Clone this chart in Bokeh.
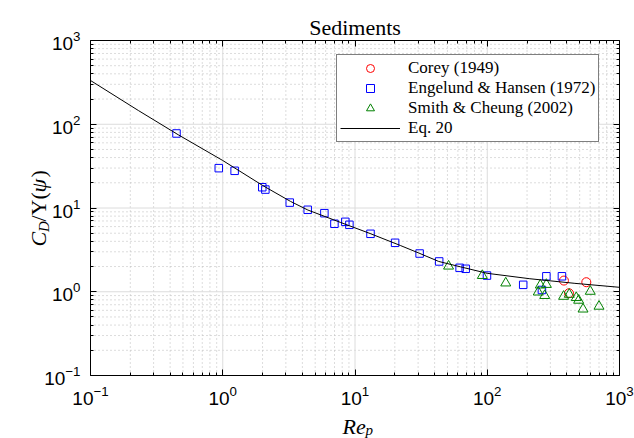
import math
from bokeh.plotting import figure
from bokeh.models import Range1d, FixedTicker, LogAxis, Label, LogTickFormatter
from bokeh.embed import file_html
from bokeh.resources import INLINE

# ---------------- data ----------------
corey_re = [380, 561, 415]
corey_cd = [1.36, 1.30, 0.96]

eh_re = [0.447, 0.933, 1.23, 1.99, 2.10, 3.21, 4.39, 5.87, 6.99, 8.45, 9.07,
         13.1, 20.1, 30.8, 43.3, 61.8, 68.7, 99.5, 187, 280, 367, 259]
eh_cd = [77.6, 29.9, 27.8, 17.7, 16.6, 11.6, 9.52, 8.67, 6.48, 6.84, 6.30,
         4.92, 3.84, 2.86, 2.30, 1.93, 1.88, 1.56, 1.21, 1.53, 1.53, 1.05]

sc_re = [51.0, 91.8, 138, 252, 280, 243, 272, 378, 417, 471, 491, 530, 601, 700]
sc_cd = [2.02, 1.56, 1.27, 1.20, 1.22, 0.99, 0.90, 0.88, 0.93, 0.85, 0.79, 0.62, 1.01, 0.67]

eq_re = [0.1, 0.23, 0.46, 1, 2, 3.25, 4.4, 7.8, 13, 22, 31, 43, 63, 100, 210, 460, 1000]
eq_cd = [333, 146, 75, 36.9, 18.6, 12.0, 9.46, 6.71, 4.96, 3.57, 2.86, 2.30, 1.98,
         1.66, 1.43, 1.26, 1.13]

x_lim = [0.1, 1000]
y_lim = [0.1, 1000]
major_ticks = [0.1, 1, 10, 100, 1000]
minor_ticks = [m * 10.0 ** e for e in range(-1, 3) for m in range(2, 10)]

title_text = "Sediments"
legend_labels = ["Corey (1949)", "Engelund & Hansen (1972)", "Smith & Cheung (2002)", "Eq. 20"]

# ---------------- layout (pixels) ----------------
W, H = 634, 438
AX_L, AX_R, AX_T, AX_B = 90, 619, 40, 375   # axes box inside the canvas

lx0, lx1 = math.log10(x_lim[0]), math.log10(x_lim[1])
ly0, ly1 = math.log10(y_lim[0]), math.log10(y_lim[1])
dpx = (lx1 - lx0) / (AX_R - AX_L)
dpy = (ly1 - ly0) / (AX_B - AX_T)
x_range = Range1d(10 ** (lx0 - AX_L * dpx), 10 ** (lx1 + (W - AX_R) * dpx))
y_range = Range1d(10 ** (ly0 - (H - AX_B) * dpy), 10 ** (ly1 + AX_T * dpy))

p = figure(width=W, height=H, x_axis_type="log", y_axis_type="log",
           x_range=x_range, y_range=y_range,
           x_axis_location=None, y_axis_location=None,
           output_backend="svg", toolbar_location=None, min_border=0)
p.background_fill_color = "white"
p.border_fill_color = "white"
p.outline_line_color = None
p.title.visible = False
for g in p.grid:
    g.visible = False

# ---------------- grid (inside the axes box) ----------------
minor_style = dict(line_color="#b9b9b9", line_width=1, line_dash="1 3")
major_style = dict(line_color="#dcdcdc", line_width=1)
p.segment(x0=minor_ticks, y0=[y_lim[0]] * len(minor_ticks), x1=minor_ticks,
          y1=[y_lim[1]] * len(minor_ticks), **minor_style)
p.segment(x0=[x_lim[0]] * len(minor_ticks), y0=minor_ticks, x1=[x_lim[1]] * len(minor_ticks),
          y1=minor_ticks, **minor_style)
p.segment(x0=major_ticks, y0=[y_lim[0]] * len(major_ticks), x1=major_ticks,
          y1=[y_lim[1]] * len(major_ticks), **major_style)
p.segment(x0=[x_lim[0]] * len(major_ticks), y0=major_ticks, x1=[x_lim[1]] * len(major_ticks),
          y1=major_ticks, **major_style)

# ---------------- axes (box with inward ticks) ----------------
ticker = FixedTicker(ticks=major_ticks, minor_ticks=minor_ticks)

def make_axis(loc, bounds, labels):
    ax = LogAxis(fixed_location=loc, bounds=tuple(bounds), ticker=ticker)
    ax.axis_line_color = "black"
    ax.axis_line_width = 1
    ax.major_tick_line_color = "black"
    ax.minor_tick_line_color = "black"
    ax.major_tick_in = 6
    ax.major_tick_out = 0
    ax.minor_tick_in = 3
    ax.minor_tick_out = 0
    if labels:
        ax.formatter = LogTickFormatter()
        ax.major_label_text_font = "Liberation Sans"
        ax.major_label_text_font_size = "19px"
        ax.major_label_text_color = "black"
        ax.major_label_standoff = 10
    else:
        ax.major_label_text_font_size = "1px"
        ax.major_label_text_alpha = 0
        ax.major_label_standoff = 0
    return ax

p.add_layout(make_axis(y_lim[0], x_lim, True), "below")
p.add_layout(make_axis(x_lim[0], y_lim, True), "left")
p.add_layout(make_axis(y_lim[1], x_lim, False), "above")
p.add_layout(make_axis(x_lim[1], y_lim, False), "right")

# ---------------- glyphs ----------------
p.scatter(corey_re, corey_cd, marker="circle", size=9, fill_color=None,
          line_color="#ff0000", line_width=1, legend_label=legend_labels[0])
p.scatter(eh_re, eh_cd, marker="square", size=7.5, fill_color=None,
          line_color="#0000ff", line_width=1, legend_label=legend_labels[1])
p.scatter(sc_re, sc_cd, marker="triangle", size=10, fill_color=None,
          line_color="#008000", line_width=1, legend_label=legend_labels[2])
p.line(eq_re, eq_cd, line_color="black", line_width=1, legend_label=legend_labels[3])

lg = p.legend[0]
lg.location = (336, H - 142)
lg.padding = 3
lg.spacing = 0
lg.glyph_width = 60
lg.glyph_height = 20
lg.label_height = 20
lg.label_standoff = 8
lg.border_line_color = "black"
lg.border_line_width = 1
lg.background_fill_color = "white"
lg.background_fill_alpha = 1
lg.label_text_font = "Liberation Serif"
lg.label_text_font_size = "17px"
lg.label_text_color = "black"

# ---------------- texts (title and math-like axis labels) ----------------
def lab(text, cx, cy, size, style="italic", angle=0.0, align="left"):
    # cx, cy: canvas pixels from the top-left corner
    p.add_layout(Label(x=cx, y=H - cy, x_units="screen", y_units="screen", text=text,
                       angle=angle, text_font="Liberation Serif", text_font_style=style,
                       text_font_size=size, text_color="black",
                       text_align=align, text_baseline="alphabetic"))

lab(title_text, (AX_L + AX_R) / 2, 27, "22px", style="normal", align="center")

# x label: Re_p
lab("Re", 342, 426, "22px")
lab("p", 365, 429, "15px")

# y label: C_D / Upsilon(psi), rotated (reads bottom to top)
a = math.pi / 2
xb = 38
yc = 246
lab("C", xb, yc, "22px", angle=a)
lab("D", xb + 5, yc - 14.5, "15px", angle=a)
lab("/\u03a5(", xb, yc - 25, "22px", style="normal", angle=a)
lab("\u03c8", xb, yc - 54, "22px", angle=a)
lab(")", xb, yc - 69, "22px", style="normal", angle=a)

open("out.html", "w").write(file_html(p, INLINE))
